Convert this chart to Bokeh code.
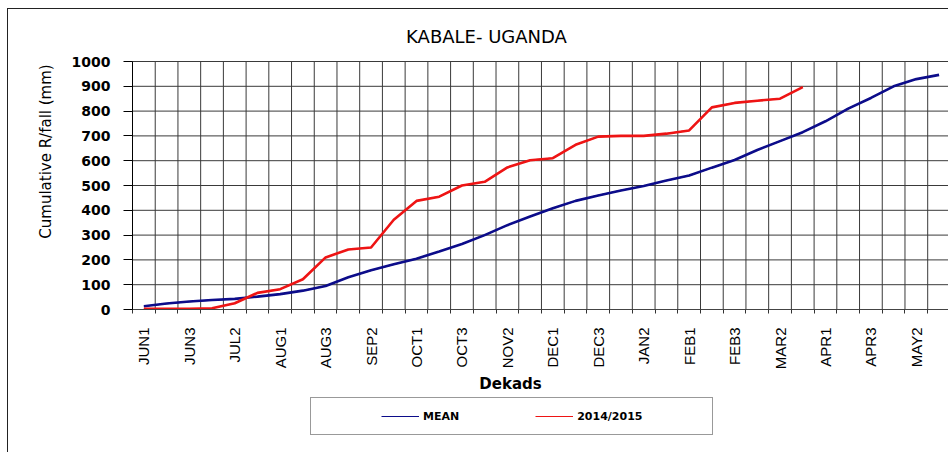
import math
from bokeh.plotting import figure
from bokeh.models import Range1d, FixedTicker, Legend, LegendItem, Label
from bokeh.core.properties import value
from bokeh.embed import file_html
from bokeh.resources import INLINE

# ---------------- data ----------------
dekads = ["JUN1", "JUN2", "JUN3", "JUL1", "JUL2", "JUL3",
          "AUG1", "AUG2", "AUG3", "SEP1", "SEP2", "SEP3",
          "OCT1", "OCT2", "OCT3", "NOV1", "NOV2", "NOV3",
          "DEC1", "DEC2", "DEC3", "JAN1", "JAN2", "JAN3",
          "FEB1", "FEB2", "FEB3", "MAR1", "MAR2", "MAR3",
          "APR1", "APR2", "APR3", "MAY1", "MAY2", "MAY3"]

mean_mm = [13, 24, 32, 38, 43, 52,
           62, 76, 95, 130, 158, 182,
           205, 234, 264, 300, 340, 375,
           408, 438, 460, 480, 498, 520,
           540, 572, 603, 643, 679, 715,
           759, 810, 853, 900, 929, 946]

season_2014_2015_mm = [3, 3, 3, 5, 25, 67,
                       82, 122, 210, 242, 250, 362,
                       438, 455, 500, 515, 573, 602,
                       610, 664, 697, 700, 700, 709,
                       722, 815, 833, 842, 850, 897]

y_ticks = [0, 100, 200, 300, 400, 500, 600, 700, 800, 900, 1000]
labelled_every = 2

title_text = "KABALE- UGANDA"
x_title = "Dekads"
y_title = "Cumulative R/fall (mm)"
series_names = ["MEAN", "2014/2015"]
mean_color = "#0c0c8a"
season_color = "#ee1414"
grid_color = "#3a3a3a"

# ---------------- layout constants (page pixels) ----------------
OX, OY = 8, 9                 # canvas origin on the page (css margin + border)
W, H = 949 - OX, 453 - OY
AXIS_X, AXIS_Y = 132, 309     # page position of the y axis line / the zero line
X_PITCH = 22.72               # pixels per dekad
Y_SCALE = 0.248               # pixels per mm


def px2x(px):
    return -0.5 + (px - AXIS_X) / X_PITCH


def py2y(py):
    return (AXIS_Y - py) / Y_SCALE


X_START, X_END = px2x(OX), px2x(OX + W)
Y_START, Y_END = py2y(OY + H), py2y(OY)

n = len(dekads)
xs_mean = list(range(len(mean_mm)))
xs_season = list(range(len(season_2014_2015_mm)))
boundaries = [k - 0.5 for k in range(n)]

p = figure(width=W, height=H, output_backend="svg", toolbar_location=None,
           x_range=Range1d(X_START, X_END), y_range=Range1d(Y_START, Y_END),
           min_border=0, min_border_left=0, min_border_right=0,
           min_border_top=0, min_border_bottom=0)
p.styles = {"margin-left": "7px", "margin-top": "8px",
            "border-left": "1px solid #222222", "border-top": "1px solid #222222"}
p.outline_line_color = None
p.background_fill_color = "white"
p.border_fill_color = "white"
p.xgrid.visible = False
p.ygrid.visible = False

# grid lines limited to the plotting area (0..1000 mm, first dekad onward)
p.segment(x0=boundaries, y0=[y_ticks[0]] * n, x1=boundaries, y1=[y_ticks[-1]] * n,
          line_color=grid_color, line_width=1)
p.segment(x0=[-0.5] * len(y_ticks), y0=y_ticks, x1=[X_END] * len(y_ticks), y1=y_ticks,
          line_color=grid_color, line_width=1)

# x axis, pinned at 0 mm
xa = p.xaxis[0]
xa.fixed_location = 0
xa.bounds = (-0.5, X_END)
xa.ticker = FixedTicker(ticks=list(range(0, n, labelled_every)), minor_ticks=boundaries)
xa.major_label_overrides = {i: dekads[i] for i in range(0, n, labelled_every)}
xa.major_tick_out = 0
xa.major_tick_in = 0
xa.minor_tick_out = 4
xa.minor_tick_in = 0
xa.minor_tick_line_color = "#333333"
xa.axis_line_color = "#444444"
xa.major_label_orientation = math.pi / 2
xa.major_label_standoff = 14
xa.major_label_text_font = "Liberation Sans"
xa.major_label_text_font_size = "15px"
xa.major_label_text_color = "black"

# y axis, pinned at the left edge of the first dekad
ya = p.yaxis[0]
ya.fixed_location = -0.5
ya.bounds = (y_ticks[0], y_ticks[-1])
ya.ticker = FixedTicker(ticks=y_ticks)
ya.major_tick_out = 9
ya.major_tick_in = 0
ya.minor_tick_out = 0
ya.minor_tick_in = 0
ya.major_tick_line_color = "black"
ya.axis_line_color = "black"
ya.major_label_standoff = 13
ya.major_label_text_font = "DejaVu Sans"
ya.major_label_text_font_style = "bold"
ya.major_label_text_font_size = "14px"
ya.major_label_text_color = "black"

# series: a thin copy underneath serves as the (thin) legend swatch
leg_mean = p.line(xs_mean, mean_mm, line_color=mean_color, line_width=1.2)
leg_season = p.line(xs_season, season_2014_2015_mm, line_color=season_color, line_width=1.2)
r_mean = p.line(xs_mean, mean_mm, line_color=mean_color, line_width=2.6)
r_season = p.line(xs_season, season_2014_2015_mm, line_color=season_color, line_width=2.6)
spacer = p.line([], [], line_alpha=0)

# texts
p.add_layout(Label(x=px2x(486), y=py2y(36), text=title_text, text_align="center",
                   text_baseline="middle", text_font="DejaVu Sans",
                   text_font_size="18px", text_color="black"))
p.add_layout(Label(x=px2x(510), y=py2y(383), text=x_title, text_align="center",
                   text_baseline="middle", text_font="DejaVu Sans",
                   text_font_style="bold", text_font_size="15px", text_color="black"))
p.add_layout(Label(x=px2x(45), y=py2y(151), text=y_title, text_align="center",
                   text_baseline="middle", angle=math.pi / 2, text_font="DejaVu Sans",
                   text_font_size="15px", text_color="black"))

legend = Legend(items=[LegendItem(label=value(""), renderers=[spacer]),
                       LegendItem(label=value(series_names[0]), renderers=[leg_mean]),
                       LegendItem(label=value(""), renderers=[spacer]),
                       LegendItem(label=value(series_names[1]), renderers=[leg_season]),
                       LegendItem(label=value(""), renderers=[spacer])],
                location=(310 - OX, OY + H - 435),
                orientation="horizontal", glyph_width=38, glyph_height=14,
                label_height=14, label_width=0, label_standoff=4, spacing=17, padding=11,
                label_text_font="DejaVu Sans", label_text_font_style="bold",
                label_text_font_size="11px", label_text_color="black",
                border_line_color="#333333", border_line_width=1,
                background_fill_color="white", background_fill_alpha=1)
p.add_layout(legend)

open("out.html", "w").write(file_html(p, INLINE))
